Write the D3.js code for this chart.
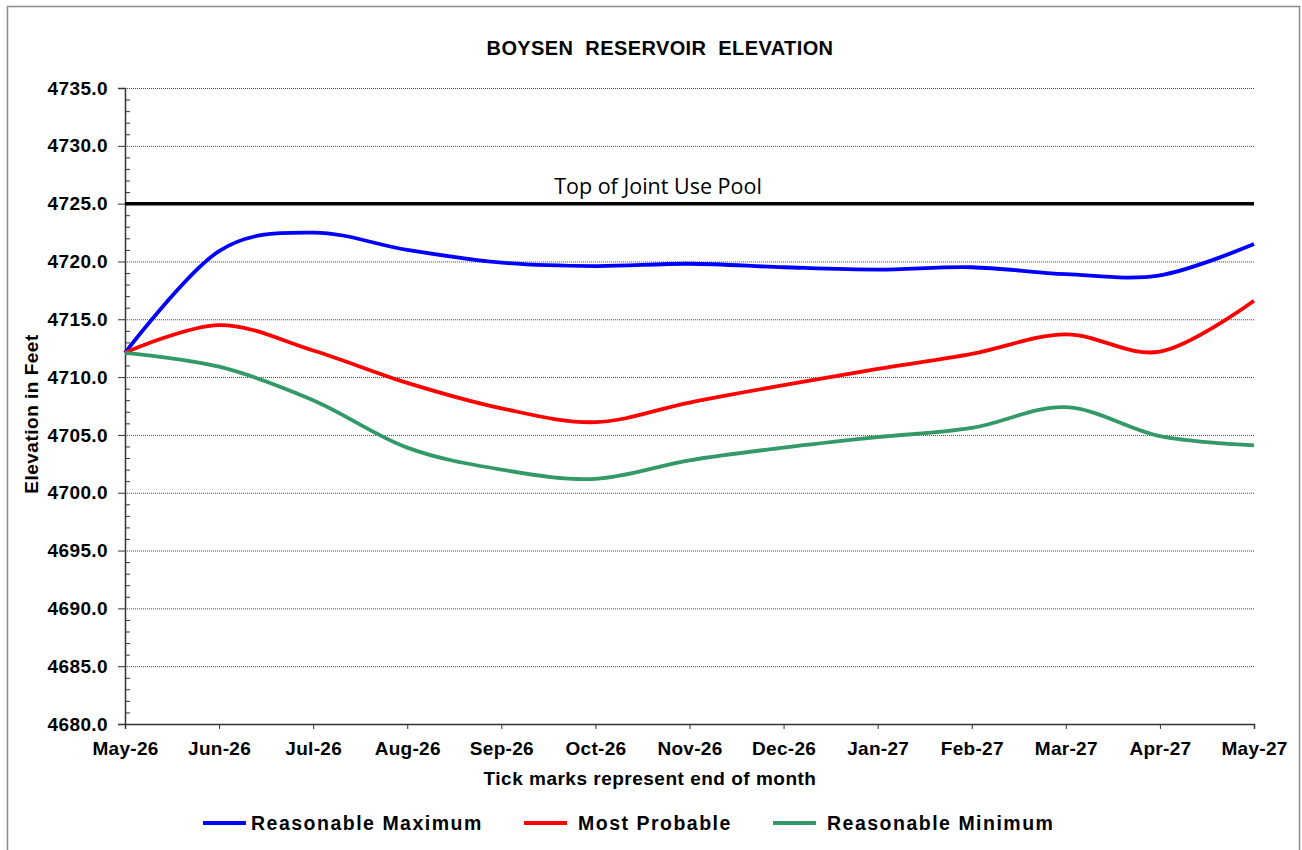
<!DOCTYPE html>
<html>
<head>
<meta charset="utf-8">
<script src="https://cdn.jsdelivr.net/npm/d3@7"></script>
<style>
  body { margin: 0; background: #fff; }
  text { font-family: Arial, "Liberation Sans", sans-serif; }
</style>
</head>
<body>
<svg id="chart" width="1302" height="850"></svg>
<script>
// month labels (end of month)
let months = ["May-26", "Jun-26", "Jul-26", "Aug-26", "Sep-26", "Oct-26", "Nov-26",
              "Dec-26", "Jan-27", "Feb-27", "Mar-27", "Apr-27", "May-27"];

let reasonableMax = [4712.1, 4720.9, 4722.5, 4721.0, 4719.9, 4719.6, 4719.8,
                     4719.5, 4719.3, 4719.5, 4718.9, 4718.8, 4721.5];
let mostProbable  = [4712.1, 4714.5, 4712.3, 4709.5, 4707.3, 4706.1, 4707.8,
                     4709.3, 4710.7, 4712.0, 4713.7, 4712.2, 4716.6];
let reasonableMin = [4712.1, 4710.9, 4708.0, 4703.9, 4702.0, 4701.2, 4702.8,
                     4703.9, 4704.8, 4705.6, 4707.4, 4704.9, 4704.1];

let yTicks = [4680, 4685, 4690, 4695, 4700, 4705, 4710, 4715, 4720, 4725, 4730, 4735];
let poolLevel = 4725;
let poolLabel = "Top of Joint Use Pool";

let series = [
    {name: "Reasonable Maximum", values: reasonableMax, color: "#0000ff"},
    {name: "Most Probable", values: mostProbable, color: "#ff0000"},
    {name: "Reasonable Minimum", values: reasonableMin, color: "#339966"}
];

let svg = d3.select("#chart");

// outer frame
svg.append("rect")
    .attr("x", 7.5).attr("y", 6.5)
    .attr("width", 1292).attr("height", 860)
    .attr("fill", "none")
    .attr("stroke", "#8c8c8c")
    .attr("stroke-width", 1.5);

let plotLeft = 125, plotRight = 1254, plotTop = 88, plotBottom = 724;

let xScale = d3.scalePoint()
    .domain(months)
    .range([plotLeft, plotRight]);
let yScale = d3.scaleLinear()
    .domain([4680, 4735])
    .range([plotBottom, plotTop]);

// gridlines
svg.append("g")
    .selectAll("line")
    .data(yTicks.filter(d => d != 4680))
    .enter()
    .append("line")
    .attr("x1", plotLeft).attr("x2", plotRight)
    .attr("y1", d => yScale(d) + 0.5).attr("y2", d => yScale(d) + 0.5)
    .attr("stroke", "#444")
    .attr("stroke-width", 1)
    .attr("stroke-dasharray", "1,1");

// minor ticks on y axis
let minor = d3.range(4681, 4735).filter(d => d % 5 != 0);
svg.append("g")
    .selectAll("line")
    .data(minor)
    .enter()
    .append("line")
    .attr("x1", plotLeft).attr("x2", plotLeft + 5)
    .attr("y1", d => yScale(d) + 0.5).attr("y2", d => yScale(d) + 0.5)
    .attr("stroke", "#333");

// y axis
let yAxis = d3.axisLeft(yScale)
    .tickValues(yTicks)
    .tickFormat(d3.format(".1f"))
    .tickSize(7)
    .tickPadding(10);
let yg = svg.append("g")
    .attr("transform", "translate(" + plotLeft + ",0)")
    .call(yAxis);
yg.select(".domain").attr("stroke", "#333").attr("stroke-width", 1.5);
yg.selectAll(".tick line").attr("stroke", "#333");
yg.selectAll("text")
    .attr("font-size", 19)
    .attr("font-weight", "bold")
    .attr("letter-spacing", 0.4)
    .attr("fill", "#000");

// x axis
let xAxis = d3.axisBottom(xScale)
    .tickSize(5)
    .tickPadding(13);
let xg = svg.append("g")
    .attr("transform", "translate(0," + plotBottom + ")")
    .call(xAxis);
xg.select(".domain").attr("stroke", "#333").attr("stroke-width", 1.5);
xg.selectAll(".tick line").attr("stroke", "#333");
xg.selectAll("text")
    .attr("font-size", 19)
    .attr("font-weight", "bold")
    .attr("letter-spacing", 0.3)
    .attr("fill", "#000");

// top of joint use pool
svg.append("line")
    .attr("x1", plotLeft).attr("x2", plotRight)
    .attr("y1", yScale(poolLevel)).attr("y2", yScale(poolLevel))
    .attr("stroke", "#000")
    .attr("stroke-width", 3.5);
svg.append("text")
    .attr("x", 658).attr("y", yScale(poolLevel) - 10)
    .attr("text-anchor", "middle")
    .style("font-family", "'Open Sans', 'Noto Sans', sans-serif")
    .attr("font-size", 21.5)
    .text(poolLabel);

// series lines
let lineGen = d3.line()
    .x((d, i) => xScale(months[i]))
    .y(d => yScale(d))
    .curve(d3.curveCatmullRom.alpha(0));

svg.append("g")
    .selectAll("path")
    .data(series)
    .enter()
    .append("path")
    .attr("d", d => lineGen(d.values))
    .attr("fill", "none")
    .attr("stroke", d => d.color)
    .attr("stroke-width", 3.8)
    .attr("stroke-linejoin", "round");

// title
svg.append("text")
    .attr("x", 660).attr("y", 55)
    .attr("text-anchor", "middle")
    .attr("font-size", 20)
    .attr("font-weight", "bold")
    .attr("letter-spacing", 0.4)
    .attr("word-spacing", 6)
    .text("BOYSEN RESERVOIR ELEVATION");

// axis titles
svg.append("text")
    .attr("transform", "translate(38,414) rotate(-90)")
    .attr("text-anchor", "middle")
    .attr("font-size", 19)
    .attr("font-weight", "bold")
    .attr("letter-spacing", 0.5)
    .text("Elevation in Feet");

svg.append("text")
    .attr("x", 650).attr("y", 785)
    .attr("text-anchor", "middle")
    .attr("font-size", 19)
    .attr("font-weight", "bold")
    .attr("letter-spacing", 0.5)
    .text("Tick marks represent end of month");

// legend
let legendLineX = [203, 524, 773];
let legendTextX = [251, 578, 827];
let legend = svg.append("g")
    .selectAll("g")
    .data(series)
    .enter()
    .append("g")
    .attr("transform", "translate(0,823)");
legend.append("line")
    .attr("x1", (d, i) => legendLineX[i]).attr("x2", (d, i) => legendLineX[i] + 43)
    .attr("stroke", d => d.color)
    .attr("stroke-width", 4);
legend.append("text")
    .attr("x", (d, i) => legendTextX[i]).attr("y", 7)
    .attr("font-size", 19.5)
    .attr("font-weight", "bold")
    .attr("letter-spacing", 1.5)
    .text(d => d.name);
</script>
</body>
</html>
